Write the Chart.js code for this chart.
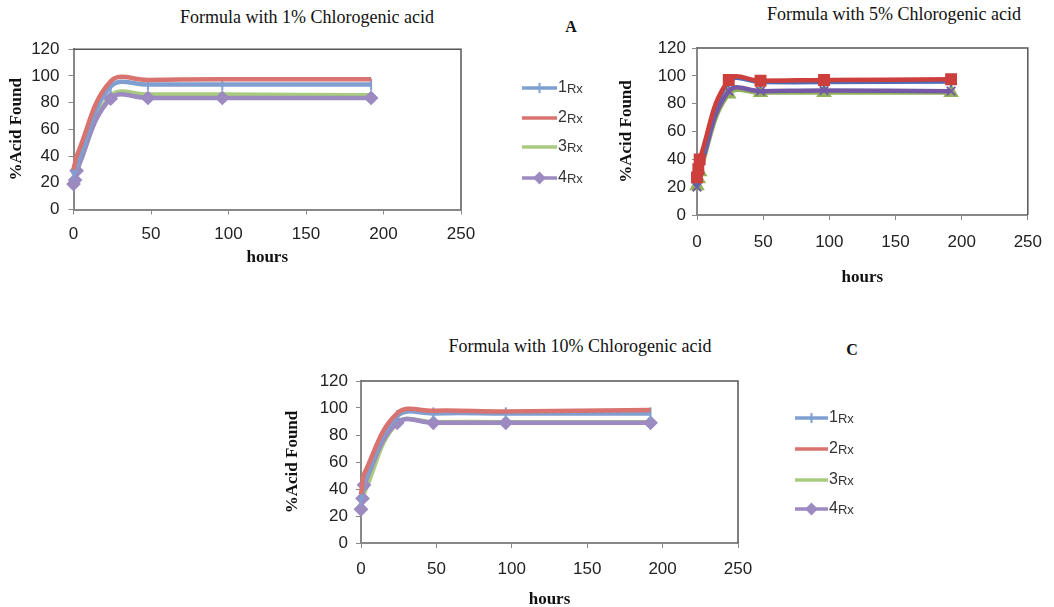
<!DOCTYPE html>
<html>
<head>
<meta charset="utf-8">
<script src="https://cdn.jsdelivr.net/npm/chart.js@4.4.1/dist/chart.umd.min.js"></script>
<style>
  body { margin: 0; width: 1054px; height: 607px; overflow: hidden; background: #fff; position: relative; }
  canvas { position: absolute; }
  .ttl { position: absolute; transform: translate(-50%, -50%); font: 18px 'Liberation Serif', serif; color: #111; white-space: nowrap; }
  .tag { position: absolute; transform: translate(-50%, -50%); font: bold 16px 'Liberation Serif', serif; color: #111; }
</style>
</head>
<body>
<div class="ttl" id="titleA" style="left:307px; top:17px"></div>
<div class="ttl" id="titleB" style="left:894px; top:14px"></div>
<div class="ttl" id="titleC" style="left:580px; top:346px"></div>
<div class="tag" id="tagA" style="left:571px; top:27px"></div>
<div class="tag" id="tagC" style="left:852px; top:350px"></div>
<canvas id="chartA" width="600" height="245" style="left:0; top:30px"></canvas>
<canvas id="chartB" width="449" height="260" style="left:605px; top:30px"></canvas>
<canvas id="chartC" width="600" height="245" style="left:270px; top:362px"></canvas>
<script>
const hours = [0, 1, 2, 24, 48, 96, 192];
const seriesNames = ['1Rx', '2Rx', '3Rx', '4Rx'];
const xTicks = [0, 50, 100, 150, 200, 250];
const yTicks = [0, 20, 40, 60, 80, 100, 120];
const chartTitles = ['Formula with 1% Chlorogenic acid', 'Formula with 5% Chlorogenic acid', 'Formula with 10% Chlorogenic acid'];
const panelTags = ['A', 'C'];
const xTitle = 'hours';
const yTitle = '%Acid Found';

// 1% chlorogenic acid
const a1Rx = [26, 30, 33, 92, 93.5, 93.5, 93.5];
const a2Rx = [30, 35, 40, 96, 97, 97.5, 97.5];
const a3Rx = [22, 25, 29, 85, 86, 86, 85.5];
const a4Rx = [19, 22, 29, 83, 83.5, 83.5, 83.5];

// 5% chlorogenic acid
const b1Rx = [24, 30, 36, 96, 95.5, 95.5, 96];
const b2Rx = [27, 33, 40, 97, 96.5, 97, 97.5];
const b3Rx = [21, 26, 31, 87, 88, 88, 88];
const b4Rx = [20, 27, 33, 89, 89, 89.5, 89];

// 10% chlorogenic acid
const c1Rx = [32, 38, 45, 94, 96, 96, 96];
const c2Rx = [36, 44, 51, 96, 98, 97.5, 98.5];
const c3Rx = [28, 33, 37, 89, 89.5, 89.5, 89.5];
const c4Rx = [25, 33, 43, 89, 89, 89, 89];

document.getElementById('titleA').textContent = chartTitles[0];
document.getElementById('titleB').textContent = chartTitles[1];
document.getElementById('titleC').textContent = chartTitles[2];
document.getElementById('tagA').textContent = panelTags[0];
document.getElementById('tagC').textContent = panelTags[1];

const softColors = ['#7f9fd0', '#d9736f', '#a9cb7f', '#9c8ac0'];
const strongColors = ['#4d6cb8', '#cc3f3c', '#92b25a', '#7659a6'];
// lower value is drawn on top: red first, then blue, purple, green
const drawOrder = [1, 0, 3, 2];

const sparseMarks = [
  { pointStyle: 'line', rotation: 90, radius: 6 },
  { pointStyle: 'rect', rotation: 0, radius: 0 },
  { pointStyle: 'triangle', rotation: 0, radius: 0 },
  { pointStyle: 'rectRot', rotation: 0, radius: 6 }
];
const fullMarks = [
  { pointStyle: 'line', rotation: 90, radius: 6 },
  { pointStyle: 'rect', rotation: 0, radius: 7 },
  { pointStyle: 'triangle', rotation: 0, radius: 7 },
  { pointStyle: 'crossRot', rotation: 0, radius: 6 }
];

// top + right edge of the plot box
const frameBox = {
  id: 'frameBox',
  beforeDatasetsDraw(chart) {
    const { ctx, chartArea: a } = chart;
    ctx.save();
    ctx.strokeStyle = '#555';
    ctx.lineWidth = 1.5;
    ctx.beginPath();
    ctx.moveTo(a.left, a.top);
    ctx.lineTo(a.right, a.top);
    ctx.lineTo(a.right, a.bottom);
    ctx.stroke();
    ctx.restore();
  }
};

// excel-like legend: line with marker, then label
const rxLegend = {
  id: 'rxLegend',
  afterDraw(chart, args, opts) {
    if (!opts.items) return;
    const ctx = chart.ctx;
    chart.data.datasets.forEach((ds, i) => {
      const y = opts.items[i];
      ctx.save();
      ctx.strokeStyle = ds.borderColor;
      ctx.lineWidth = 3.5;
      ctx.beginPath();
      ctx.moveTo(opts.x, y);
      ctx.lineTo(opts.x + opts.len, y);
      ctx.stroke();
      if (ds.pointRadius > 0) {
        ctx.fillStyle = ds.borderColor;
        ctx.lineWidth = 2;
        Chart.helpers.drawPoint(ctx, { pointStyle: ds.pointStyle, rotation: ds.pointRotation, radius: 5, borderWidth: 2 }, opts.x + opts.len / 2, y);
      }
      ctx.fillStyle = '#333';
      ctx.textBaseline = 'middle';
      ctx.textAlign = 'left';
      const lab = ds.label;
      ctx.font = "16px 'Liberation Sans', Arial";
      ctx.fillText(lab[0], opts.x + opts.len + 1, y);
      const w = ctx.measureText(lab[0]).width;
      ctx.font = "13px 'Liberation Sans', Arial";
      ctx.fillText(lab.slice(1), opts.x + opts.len + 1 + w, y + 1);
      ctx.restore();
    });
  }
};

function makeSets(series, colors, marks) {
  return series.map((vals, i) => ({
    label: seriesNames[i],
    data: hours.map((h, j) => ({ x: h, y: vals[j] })),
    order: drawOrder[i],
    borderColor: colors[i],
    backgroundColor: colors[i],
    borderWidth: 4.5,
    tension: 0.4,
    fill: false,
    clip: false,
    pointStyle: marks[i].pointStyle,
    pointRotation: marks[i].rotation,
    pointRadius: marks[i].radius,
    pointBorderWidth: 2,
    pointBackgroundColor: colors[i],
    pointBorderColor: colors[i]
  }));
}

const tickFont = { family: "'Liberation Sans', Arial", size: 17 };
const axisTitleFont = { family: "'Liberation Serif', serif", size: 17, weight: 'bold', lineHeight: 1 };

function makeChart(id, sets, g, legendOpts) {
  return new Chart(document.getElementById(id), {
    type: 'line',
    data: { datasets: sets },
    options: {
      responsive: false,
      animation: false,
      layout: { padding: { left: 0, top: g.padT, right: g.padR, bottom: 0 } },
      plugins: {
        legend: { display: false },
        tooltip: { enabled: false },
        rxLegend: legendOpts || {}
      },
      scales: {
        x: {
          type: 'linear',
          min: xTicks[0],
          max: xTicks[xTicks.length - 1],
          afterBuildTicks: s => { s.ticks = xTicks.map(v => ({ value: v })); },
          afterFit: s => { s.height = g.xH; },
          ticks: { font: tickFont, color: '#222', padding: g.xPad, maxRotation: 0, autoSkip: false },
          grid: { drawOnChartArea: false, drawTicks: true, tickLength: 5, color: '#888' },
          border: { color: '#888', width: 2 },
          title: { display: true, text: xTitle, font: axisTitleFont, color: '#111', padding: { top: 0, bottom: g.xTitleB } }
        },
        y: {
          min: yTicks[0],
          max: yTicks[yTicks.length - 1],
          afterBuildTicks: s => { s.ticks = yTicks.map(v => ({ value: v })); },
          afterFit: s => { s.width = g.yW; },
          ticks: { font: tickFont, color: '#222', padding: g.yPad, autoSkip: false },
          grid: { drawOnChartArea: false, drawTicks: true, tickLength: 5, color: '#888' },
          border: { color: '#888', width: 2 },
          title: { display: true, text: yTitle, font: axisTitleFont, color: '#111', padding: { top: g.yTitleT, bottom: 0 } }
        }
      }
    },
    plugins: [frameBox, rxLegend]
  });
}

makeChart('chartA', makeSets([a1Rx, a2Rx, a3Rx, a4Rx], softColors, sparseMarks),
  { padT: 16, padR: 139, xH: 65.5, yW: 73.5, xPad: 9.5, yPad: 9, xTitleB: 8.5, yTitleT: 8.5 },
  { x: 522, len: 35, items: [58, 88, 117, 148] });

makeChart('chartB', makeSets([b1Rx, b2Rx, b3Rx, b4Rx], strongColors, fullMarks),
  { padT: 18, padR: 13, xH: 75, yW: 92, xPad: 12, yPad: 6, xTitleB: 3.5, yTitleT: 13.5 });

makeChart('chartC', makeSets([c1Rx, c2Rx, c3Rx, c4Rx], softColors, sparseMarks),
  { padT: 19, padR: 132, xH: 64, yW: 91, xPad: 11, yPad: 8, xTitleB: -1.5, yTitleT: 14 },
  { x: 525, len: 33, items: [56, 87, 118, 147] });
</script>
</body>
</html>
